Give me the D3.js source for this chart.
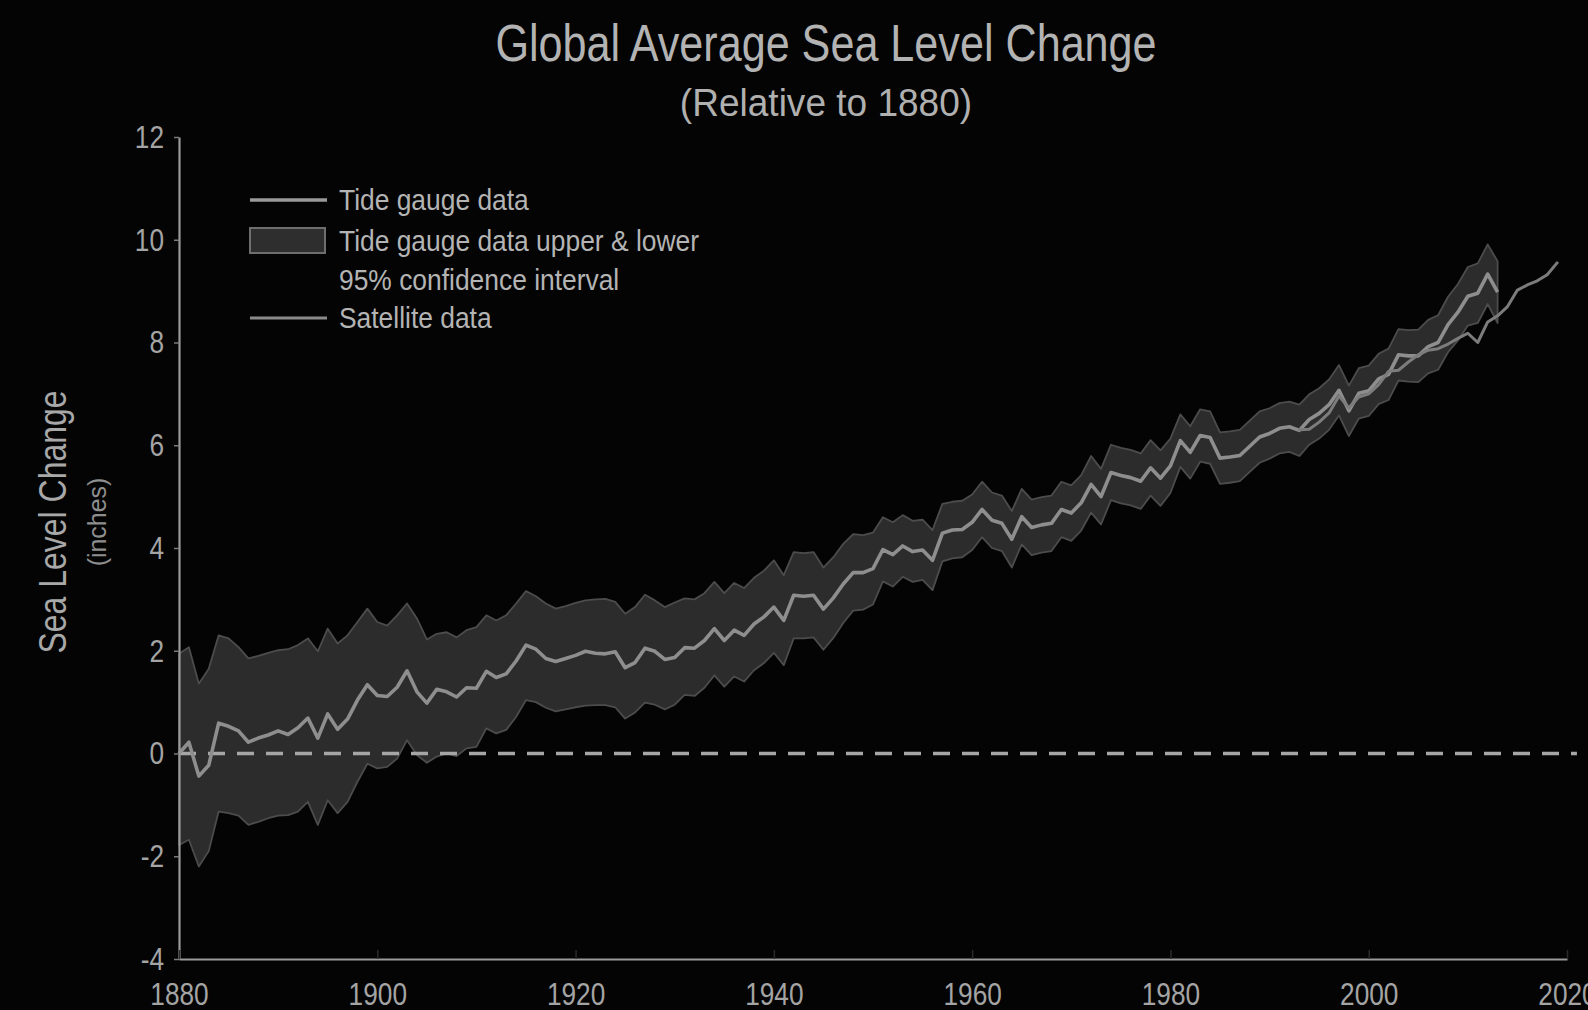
<!DOCTYPE html>
<html>
<head>
<meta charset="utf-8">
<script src="https://cdn.jsdelivr.net/npm/d3@7"></script>
<style>
  html, body { margin: 0; padding: 0; background: #040404; }
  svg { display: block; }
  text { font-family: "Liberation Sans", Arial, Helvetica, sans-serif; }
</style>
</head>
<body>
<svg id="chart" width="1588" height="1010"></svg>
<script>
// Tide gauge record (inches, relative to 1880), one value per year 1880–2013
const tideYears = d3.range(1880, 2014);
const tideLevel = [
  0.00, 0.22, -0.44, -0.23, 0.59, 0.53, 0.44, 0.22, 0.30, 0.36,
  0.44, 0.37, 0.50, 0.69, 0.30, 0.77, 0.47, 0.67, 1.04, 1.34,
  1.13, 1.11, 1.29, 1.61, 1.20, 0.98, 1.25, 1.20, 1.10, 1.28,
  1.27, 1.60, 1.48, 1.55, 1.80, 2.11, 2.03, 1.85, 1.79, 1.85,
  1.91, 1.99, 1.95, 1.94, 1.98, 1.67, 1.77, 2.05, 1.99, 1.83,
  1.87, 2.06, 2.05, 2.20, 2.43, 2.20, 2.40, 2.30, 2.52, 2.66,
  2.85, 2.59, 3.08, 3.06, 3.08, 2.81, 3.03, 3.30, 3.52, 3.52,
  3.60, 3.97, 3.87, 4.04, 3.93, 3.96, 3.76, 4.29, 4.35, 4.36,
  4.50, 4.75, 4.54, 4.48, 4.17, 4.61, 4.40, 4.45, 4.48, 4.75,
  4.68, 4.88, 5.24, 5.00, 5.47, 5.41, 5.37, 5.30, 5.56, 5.36,
  5.60, 6.09, 5.86, 6.19, 6.15, 5.75, 5.77, 5.80, 5.98, 6.16,
  6.23, 6.33, 6.36, 6.29, 6.50, 6.62, 6.79, 7.07, 6.67, 7.01,
  7.06, 7.29, 7.38, 7.76, 7.74, 7.74, 7.92, 8.00, 8.35, 8.59,
  8.90, 8.96, 9.33, 8.98
];
// Upper bound of the 95% confidence interval
const tideUpper = [
  1.94, 2.07, 1.36, 1.65, 2.30, 2.24, 2.07, 1.85, 1.90, 1.96,
  2.01, 2.03, 2.11, 2.24, 1.99, 2.43, 2.14, 2.30, 2.56, 2.82,
  2.56, 2.49, 2.69, 2.92, 2.63, 2.22, 2.33, 2.36, 2.26, 2.40,
  2.46, 2.69, 2.59, 2.69, 2.92, 3.16, 3.06, 2.92, 2.82, 2.87,
  2.93, 2.98, 3.00, 3.01, 2.95, 2.72, 2.85, 3.09, 2.98, 2.85,
  2.94, 3.02, 3.00, 3.12, 3.34, 3.12, 3.32, 3.22, 3.42, 3.56,
  3.76, 3.47, 3.92, 3.90, 3.92, 3.62, 3.82, 4.08, 4.27, 4.25,
  4.30, 4.60, 4.50, 4.64, 4.53, 4.55, 4.35, 4.86, 4.90, 4.92,
  5.04, 5.29, 5.08, 5.02, 4.72, 5.15, 4.94, 4.99, 5.02, 5.29,
  5.22, 5.42, 5.79, 5.54, 6.01, 5.95, 5.91, 5.84, 6.10, 5.90,
  6.13, 6.60, 6.37, 6.70, 6.66, 6.25, 6.27, 6.30, 6.48, 6.66,
  6.72, 6.82, 6.85, 6.79, 6.99, 7.11, 7.28, 7.56, 7.16, 7.50,
  7.55, 7.78, 7.88, 8.26, 8.24, 8.25, 8.44, 8.53, 8.89, 9.14,
  9.47, 9.54, 9.91, 9.58
];
// Lower bound of the 95% confidence interval
const tideLower = [
  -1.78, -1.68, -2.20, -1.90, -1.13, -1.16, -1.21, -1.39, -1.33, -1.26,
  -1.21, -1.20, -1.13, -0.94, -1.39, -0.91, -1.16, -0.94, -0.55, -0.20,
  -0.29, -0.26, -0.10, 0.26, -0.03, -0.18, -0.06, 0.00, -0.05, 0.10,
  0.13, 0.49, 0.39, 0.46, 0.71, 1.04, 1.00, 0.89, 0.82, 0.86,
  0.90, 0.93, 0.94, 0.94, 0.90, 0.68, 0.80, 0.99, 0.95, 0.86,
  0.95, 1.14, 1.12, 1.28, 1.52, 1.30, 1.50, 1.40, 1.62, 1.76,
  1.96, 1.72, 2.24, 2.24, 2.26, 2.02, 2.25, 2.54, 2.78, 2.80,
  2.90, 3.35, 3.25, 3.44, 3.34, 3.38, 3.18, 3.74, 3.80, 3.82,
  3.96, 4.21, 4.00, 3.94, 3.62, 4.07, 3.86, 3.91, 3.94, 4.21,
  4.14, 4.34, 4.69, 4.46, 4.93, 4.87, 4.83, 4.76, 5.02, 4.82,
  5.07, 5.58, 5.35, 5.68, 5.64, 5.25, 5.27, 5.30, 5.48, 5.66,
  5.74, 5.84, 5.87, 5.79, 6.01, 6.13, 6.30, 6.58, 6.18, 6.52,
  6.57, 6.80, 6.88, 7.26, 7.24, 7.23, 7.40, 7.47, 7.81, 8.04,
  8.33, 8.38, 8.75, 8.38
];
// Satellite altimetry record, 1993–2019
const satYears = d3.range(1993, 2020);
const satLevel = [
  6.30, 6.31, 6.45, 6.63, 6.96, 6.73, 6.94, 7.00, 7.18, 7.44,
  7.46, 7.62, 7.76, 7.85, 7.88, 7.97, 8.08, 8.18, 8.00, 8.40,
  8.52, 8.70, 9.02, 9.12, 9.20, 9.32, 9.55
];

const xTickValues = [1880, 1900, 1920, 1940, 1960, 1980, 2000, 2020];
const yTickValues = [-4, -2, 0, 2, 4, 6, 8, 10, 12];

const titleText = "Global Average Sea Level Change";
const subtitleText = "(Relative to 1880)";
const yLabelText = "Sea Level Change";
const yUnitText = "(inches)";
const legendLabels = ["Tide gauge data", "Tide gauge data upper & lower", "95% confidence interval", "Satellite data"];

const svg = d3.select("#chart");
svg.append("rect").attr("width", 1588).attr("height", 1010).attr("fill", "#040404");

const x = d3.scaleLinear().domain([1880, 2020]).range([179, 1567]);
const y = d3.scaleLinear().domain([-4, 12]).range([959, 137]);

const tide = tideYears.map((yr, i) => ({ year: yr, level: tideLevel[i], lo: tideLower[i], hi: tideUpper[i] }));
const sat = satYears.map((yr, i) => ({ year: yr, level: satLevel[i] }));

// Confidence band
svg.append("path")
  .datum(tide)
  .attr("d", d3.area().x(d => x(d.year)).y0(d => y(d.lo)).y1(d => y(d.hi)))
  .attr("fill", "#2c2c2c")
  .attr("stroke", "#4c4c4c")
  .attr("stroke-width", 1.8)
  .attr("stroke-linejoin", "round");

// Zero reference
svg.append("line")
  .attr("x1", x(1880)).attr("x2", x(2021))
  .attr("y1", y(0)).attr("y2", y(0))
  .attr("stroke", "#a6a6a6")
  .attr("stroke-width", 3.5)
  .attr("stroke-dasharray", "17,12");

// Tide gauge line
svg.append("path")
  .datum(tide)
  .attr("d", d3.line().x(d => x(d.year)).y(d => y(d.level)))
  .attr("fill", "none")
  .attr("stroke", "#8e8e8e")
  .attr("stroke-width", 3.6)
  .attr("stroke-linejoin", "round");

// Satellite line
svg.append("path")
  .datum(sat)
  .attr("d", d3.line().x(d => x(d.year)).y(d => y(d.level)))
  .attr("fill", "none")
  .attr("stroke", "#7c7c7c")
  .attr("stroke-width", 3)
  .attr("stroke-linejoin", "round")
  .attr("stroke-linecap", "round");

// Axes
const tickFmt = d => String(d);
const tickScaleX = 0.82;

const yAxis = svg.append("g")
  .attr("transform", `translate(${x(1880)},0)`)
  .call(d3.axisLeft(y).tickValues(yTickValues).tickSizeInner(5).tickSizeOuter(0).tickPadding(6).tickFormat(tickFmt));
yAxis.select(".domain").attr("stroke", "#9a9a9a").attr("stroke-width", 2.2);
yAxis.selectAll(".tick line").attr("stroke", "#7a7a7a").attr("stroke-width", 1.5);
yAxis.selectAll(".tick text")
  .attr("fill", "#a4a4a4")
  .attr("x", -15 / tickScaleX)
  .attr("transform", `scale(${tickScaleX},1)`)
  .style("font-size", "32px")
  .style("font-family", "'Liberation Sans', Arial, sans-serif");

const xAxis = svg.append("g")
  .attr("transform", `translate(0,${y(-4)})`)
  .call(d3.axisBottom(x).tickValues(xTickValues).tickSizeInner(-9).tickSizeOuter(0).tickPadding(23).tickFormat(tickFmt));
xAxis.select(".domain").attr("stroke", "#9a9a9a").attr("stroke-width", 2.2);
xAxis.selectAll(".tick line").attr("stroke", "#2a2a2a").attr("stroke-width", 1.5);
xAxis.selectAll(".tick text")
  .attr("fill", "#a4a4a4")
  .attr("transform", `scale(${tickScaleX},1)`)
  .style("font-size", "32px")
  .style("font-family", "'Liberation Sans', Arial, sans-serif");

// Titles
function label(txt, tx, ty, size, sx, color, anchor, rot) {
  const g = svg.append("g").attr("transform", `translate(${tx},${ty}) rotate(${rot || 0}) scale(${sx},1)`);
  g.append("text")
    .attr("text-anchor", anchor)
    .attr("fill", color)
    .style("font-size", size + "px")
    .text(txt);
}
label(titleText, 826, 61, 52, 0.83, "#b3b3b3", "middle");
label(subtitleText, 826, 116, 39, 0.95, "#b0b0b0", "middle");
label(yLabelText, 66, 522, 39, 0.82, "#a8a8a8", "middle", -90);
label(yUnitText, 106, 522, 26, 0.96, "#8e8e8e", "middle", -90);

// Legend
const legend = svg.append("g");
legend.append("line").attr("x1", 250).attr("x2", 327).attr("y1", 200).attr("y2", 200)
  .attr("stroke", "#9a9a9a").attr("stroke-width", 3.5);
legend.append("rect").attr("x", 250).attr("y", 228).attr("width", 75).attr("height", 25)
  .attr("fill", "#2e2e2e").attr("stroke", "#6e6e6e").attr("stroke-width", 2);
legend.append("line").attr("x1", 250).attr("x2", 327).attr("y1", 318).attr("y2", 318)
  .attr("stroke", "#8a8a8a").attr("stroke-width", 3.2);
const legendBaselines = [210, 251, 290, 328];
legendLabels.forEach((t, i) => label(t, 339, legendBaselines[i], 30, 0.88, "#b4b4b4", "start"));
</script>
</body>
</html>
